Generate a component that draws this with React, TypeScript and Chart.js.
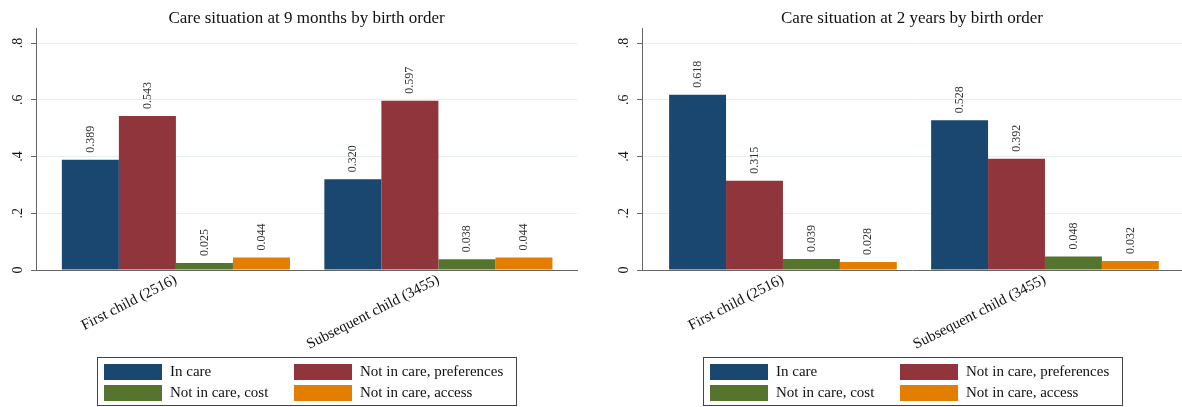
import React, { useEffect, useRef } from 'react';
import { Chart, registerables } from 'chart.js';

Chart.register(...registerables);

// ---------- data ----------
const categories = ['First child (2516)', 'Subsequent child (3455)'];
const seriesNames = ['In care', 'Not in care, preferences', 'Not in care, cost', 'Not in care, access'];
const seriesColors = ['#1a476f', '#90353b', '#55752f', '#e37e00'];
const yTickValues = [0, 0.2, 0.4, 0.6, 0.8];
const yTickLabels = ['0', '.2', '.4', '.6', '.8'];

const inCare9m = [0.389, 0.32];
const preferences9m = [0.543, 0.597];
const cost9m = [0.025, 0.038];
const access9m = [0.044, 0.044];

const inCare2y = [0.618, 0.528];
const preferences2y = [0.315, 0.392];
const cost2y = [0.039, 0.048];
const access2y = [0.028, 0.032];

const title9m = 'Care situation at 9 months by birth order';
const title2y = 'Care situation at 2 years by birth order';

const FONT = "'Liberation Serif', 'Times New Roman', Times, serif";
const AXIS = '#666666';
const GRID = '#e6eef0';

type PanelProps = {
  title: string;
  series: number[][];
  xMin: number;
  xMax: number;
  axisWidth: number;
  padRight: number;
};

const decorPlugin = {
  id: 'stataDecor',
  afterDraw(chart: any, _args: any, opts: any) {
    const ctx = chart.ctx;
    const area = chart.chartArea;
    const cx = (area.left + area.right) / 2;
    ctx.save();
    // title
    ctx.fillStyle = '#111';
    ctx.font = `17px ${FONT}`;
    ctx.textAlign = 'center';
    ctx.textBaseline = 'alphabetic';
    ctx.fillText(opts.title, cx, 23);

    // y tick labels (rotated)
    const ys = chart.scales.y;
    ctx.font = `14px ${FONT}`;
    yTickValues.forEach((v, i) => {
      const py = ys.getPixelForValue(v);
      ctx.save();
      ctx.translate(area.left - 18, py);
      ctx.rotate(-Math.PI / 2);
      ctx.textAlign = 'center';
      ctx.textBaseline = 'middle';
      ctx.fillText(yTickLabels[i], 0, 0);
      ctx.restore();
    });

    // value labels
    ctx.font = `12px ${FONT}`;
    ctx.fillStyle = '#333';
    chart.data.datasets.forEach((ds: any, di: number) => {
      const meta = chart.getDatasetMeta(di);
      meta.data.forEach((bar: any, j: number) => {
        const v = ds.data[j].y;
        ctx.save();
        ctx.translate(bar.x, bar.y - 7);
        ctx.rotate(-Math.PI / 2);
        ctx.textAlign = 'left';
        ctx.textBaseline = 'middle';
        ctx.fillText(v.toFixed(3), 0, 0);
        ctx.restore();
      });
    });

    // legend
    const boxW = 419;
    const boxH = 48;
    const bx = Math.round(cx - boxW / 2) + 0.5;
    const by = 357.5;
    ctx.fillStyle = '#fff';
    ctx.fillRect(bx, by, boxW, boxH);
    ctx.strokeStyle = '#444';
    ctx.lineWidth = 1;
    ctx.strokeRect(bx, by, boxW, boxH);
    ctx.font = `15px ${FONT}`;
    ctx.textAlign = 'left';
    ctx.textBaseline = 'middle';
    chart.data.datasets.forEach((ds: any, di: number) => {
      const col = di % 2;
      const row = Math.floor(di / 2);
      const sx = Math.round(bx) + 6 + col * 190;
      const sy = 364 + row * 21;
      ctx.fillStyle = ds.backgroundColor;
      ctx.fillRect(sx, sy, 58, 16);
      ctx.fillStyle = '#111';
      ctx.fillText(ds.label, sx + 66, sy + 8.5);
    });
    ctx.restore();
  },
};

function Panel({ title, series, xMin, xMax, axisWidth, padRight }: PanelProps) {
  const ref = useRef<HTMLCanvasElement>(null);
  useEffect(() => {
    if (!ref.current) return;
    const datasets = series.map((vals, si) => ({
      label: seriesNames[si],
      data: vals.map((v, i) => ({ x: i, y: v })),
      backgroundColor: seriesColors[si],
      borderWidth: 0,
      categoryPercentage: 0.869,
      barPercentage: 1,
    }));
    const chart = new Chart(ref.current, {
      type: 'bar',
      data: { datasets },
      plugins: [decorPlugin],
      options: {
        responsive: false,
        animation: false,
        devicePixelRatio: 1,
        layout: { padding: { top: 28, right: padRight, left: 0, bottom: 0 } },
        plugins: {
          legend: { display: false },
          title: { display: false },
          tooltip: { enabled: false },
          stataDecor: { title },
        } as any,
        scales: {
          x: {
            type: 'linear',
            offset: false,
            min: xMin,
            max: xMax,
            afterBuildTicks: (s: any) => {
              s.ticks = categories.map((_, i) => ({ value: i }));
            },
            afterFit: (s: any) => {
              s.height = 137;
            },
            ticks: {
              autoSkip: false,
              minRotation: 27,
              maxRotation: 27,
              padding: -7,
              color: '#111',
              font: { family: FONT, size: 15 },
              callback: (v: any) => categories[v] ?? '',
            },
            grid: { display: false, offset: false },
            border: { display: true, color: AXIS, width: 1 },
          },
          y: {
            type: 'linear',
            min: 0,
            max: 0.853,
            afterBuildTicks: (s: any) => {
              s.ticks = yTickValues.map((v) => ({ value: v }));
            },
            afterFit: (s: any) => {
              s.width = axisWidth;
            },
            ticks: { display: false },
            grid: {
              drawTicks: true,
              tickLength: 5,
              tickColor: AXIS,
              color: (c: any) => (c.tick && c.tick.value === 0 ? 'rgba(0,0,0,0)' : GRID),
              lineWidth: 1,
            },
            border: { display: true, color: AXIS, width: 1 },
          },
        },
      } as any,
    });
    return () => chart.destroy();
  }, []);
  return <canvas ref={ref} width={591} height={407} style={{ display: 'block', width: 591, height: 407 }} />;
}

export default function App() {
  return (
    <div style={{ position: 'absolute', left: 0, top: 0, width: 1182, height: 407, background: '#fff', display: 'flex' }}>
      <Panel
        title={title9m}
        series={[inCare9m, preferences9m, cost9m, access9m]}
        xMin={-0.533}
        xMax={1.528}
        axisWidth={36}
        padRight={14}
      />
      <Panel
        title={title2y}
        series={[inCare2y, preferences2y, cost2y, access2y]}
        xMin={-0.538}
        xMax={1.523}
        axisWidth={51}
        padRight={0}
      />
    </div>
  );
}
